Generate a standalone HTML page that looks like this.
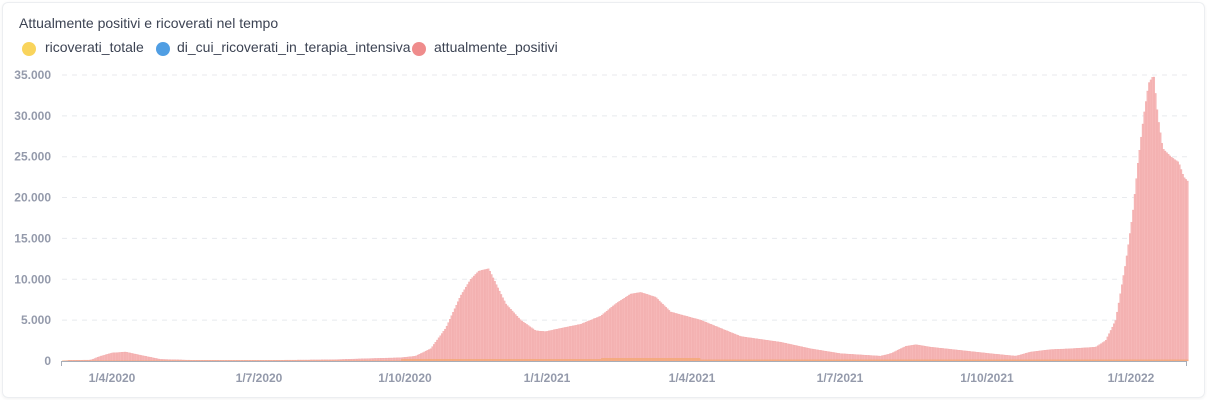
<!DOCTYPE html>
<html><head><meta charset="utf-8"><style>
body{margin:0;background:#fff;width:1207px;height:400px;overflow:hidden;font-family:"Liberation Sans",sans-serif}
.card{position:absolute;left:2px;top:2px;width:1201px;height:394px;border:1px solid #eceef1;border-radius:6px;box-shadow:0 1px 3px rgba(0,0,0,0.06)}
.t{position:absolute;left:19px;top:15px;font-size:14px;color:#3c4353;white-space:nowrap}
.lg{position:absolute;top:39px;font-size:14px;color:#3c4353;white-space:nowrap}
.dot{position:absolute;top:42px;width:14px;height:14px;border-radius:50%}
svg{position:absolute;left:0;top:0}
</style></head><body>
<div class="card"></div>
<div class="t">Attualmente positivi e ricoverati nel tempo</div>
<div class="dot" style="left:22px;background:#f9d45c"></div><div class="lg" style="left:45px">ricoverati_totale</div>
<div class="dot" style="left:156px;background:#509ee3"></div><div class="lg" style="left:177px">di_cui_ricoverati_in_terapia_intensiva</div>
<div class="dot" style="left:412px;background:#ef8c8c"></div><div class="lg" style="left:434px">attualmente_positivi</div>
<svg id="s" width="1207" height="400" xmlns="http://www.w3.org/2000/svg"></svg>
<script>
var s=document.getElementById('s'),h='';
var y0=361,k=40.86/5000;
var labs=['0','5.000','10.000','15.000','20.000','25.000','30.000','35.000'];
for(var i=0;i<8;i++){var y=y0-i*40.86;
 if(i>0)h+='<line x1="62" x2="1187" y1="'+y+'" y2="'+y+'" stroke="#e8eaee" stroke-dasharray="5,5"/>';
 h+='<text x="51" y="'+(y+4)+'" text-anchor="end" font-size="12" font-weight="bold" fill="#949aab" font-family="Liberation Sans">'+labs[i]+'</text>';}
var P=[[62,0],[68,80],[90,120],[100,600],[112,1000],[125,1100],[140,700],[160,200],[190,100],[260,80],[330,150],[370,300],[400,400],[415,600],[430,1500],[445,4000],[460,8000],[470,10000],[478,11000],[488,11300],[495,9500],[505,7000],[520,5000],[535,3700],[545,3600],[560,4000],[580,4500],[600,5500],[615,7000],[630,8200],[640,8400],[655,7800],[670,6000],[700,5000],[720,4000],[740,3000],[780,2300],[810,1500],[840,900],[880,600],[890,900],[905,1800],[915,2000],[930,1700],[960,1300],[990,900],[1015,600],[1030,1100],[1050,1400],[1070,1500],[1095,1700],[1105,2500],[1115,5000],[1125,12000],[1132,18000],[1137,24000],[1143,30000],[1148,34000],[1153,35000],[1157,30000],[1162,26000],[1170,25000],[1178,24300],[1183,22500],[1187,22000]];
function v(x){for(var i=1;i<P.length;i++)if(x<=P[i][0]){var a=P[i-1],b=P[i];return a[1]+(b[1]-a[1])*(x-a[0])/(b[0]-a[0]);}return 22000;}
for(var x=62;x<1187;x+=1.6){var val=v(x),hh=val*k;
 h+='<rect x="'+x.toFixed(1)+'" y="'+(y0-hh).toFixed(1)+'" width="1.6" height="'+hh.toFixed(1)+'" fill="#f6b8b8" stroke="#f0a3a3" stroke-width="0.3"/>';}
function r(x){return x<400?0.5:(x<700?(x>600?3:2):1.5);}
for(var x=62;x<1187;x+=1.6){h+='<rect x="'+x.toFixed(1)+'" y="'+(y0-r(x))+'" width="1.6" height="'+r(x)+'" fill="#f5a66a" opacity="0.7"/>';}
h+='<line x1="61" x2="1187" y1="361.5" y2="361.5" stroke="#a7adb8"/><line x1="61.5" x2="61.5" y1="361" y2="366" stroke="#a7adb8"/><line x1="1186.5" x2="1186.5" y1="361" y2="366" stroke="#a7adb8"/>';
var d=[[112,'1/4/2020'],[259,'1/7/2020'],[405,'1/10/2020'],[547,'1/1/2021'],[692,'1/4/2021'],[840,'1/7/2021'],[987,'1/10/2021'],[1131,'1/1/2022']];
d.forEach(function(e){h+='<text x="'+e[0]+'" y="382" text-anchor="middle" font-size="12" font-weight="bold" fill="#949aab" font-family="Liberation Sans">'+e[1]+'</text>';});
s.innerHTML=h;
</script>
</body></html>
